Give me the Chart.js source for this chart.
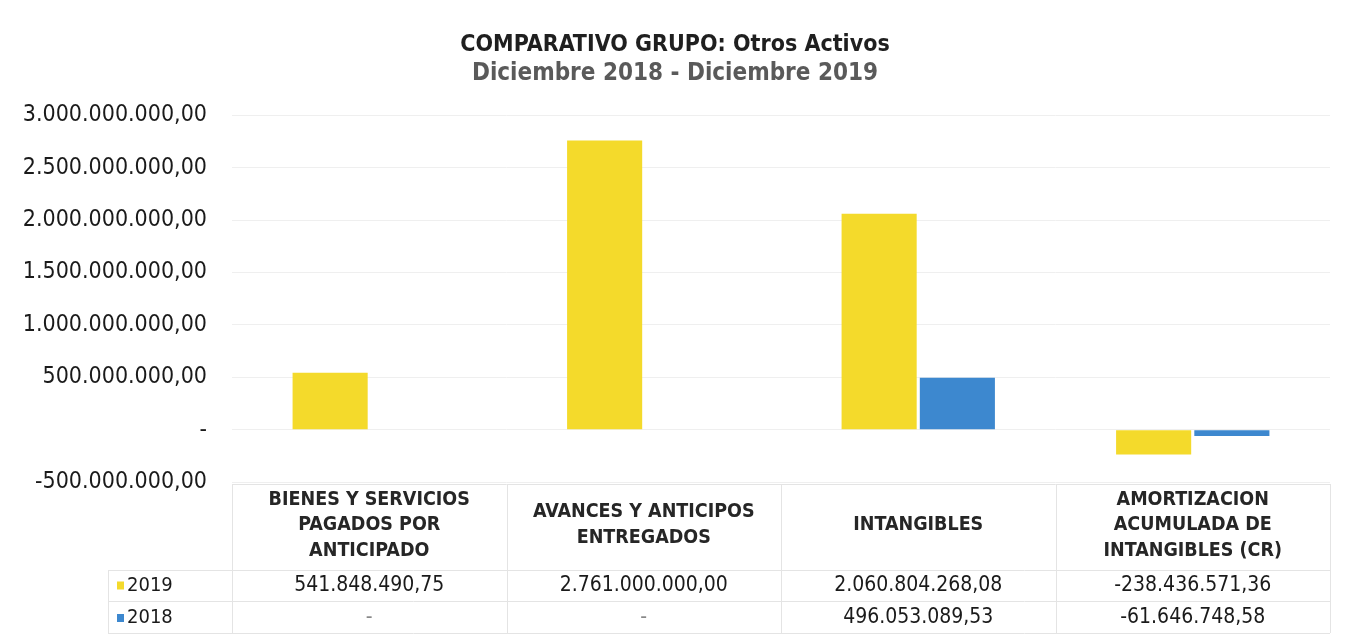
<!DOCTYPE html>
<html>
<head>
<meta charset="utf-8">
<script src="https://cdn.jsdelivr.net/npm/chart.js@4.4.1/dist/chart.umd.min.js"></script>
<style>
html,body{margin:0;padding:0;background:#fff;}
#wrap{width:1353px;height:638px;position:relative;}
</style>
</head>
<body>
<div id="wrap"><canvas id="c" width="1353" height="638"></canvas></div>
<script>
const categories = [
  ["BIENES Y SERVICIOS", "PAGADOS POR", "ANTICIPADO"],
  ["AVANCES Y ANTICIPOS", "ENTREGADOS"],
  ["INTANGIBLES"],
  ["AMORTIZACION", "ACUMULADA DE", "INTANGIBLES (CR)"]
];
const seriesNames = ["2019", "2018"];
const values2019 = [541848490.75, 2761000000.00, 2060804268.08, -238436571.36];
const values2018 = [0, 0, 496053089.53, -61646748.58];
const yTicks = [-500000000, 0, 500000000, 1000000000, 1500000000, 2000000000, 2500000000, 3000000000];
const colors = ["#F4DA2B", "#3D88CF"];

const FONT = "'Liberation Sans Narrow', 'DejaVu Sans Condensed', 'Liberation Sans', sans-serif";

function fmt(v){
  if (v === 0) return "-";
  const neg = v < 0;
  const a = Math.abs(v);
  let [i, d] = a.toFixed(2).split(".");
  i = i.replace(/\B(?=(\d{3})+(?!\d))/g, ".");
  return (neg ? "-" : "") + i + "," + d;
}

const tablePlugin = {
  id: 'dataTable',
  afterDraw(chart){
    const ctx = chart.ctx;
    const x = chart.scales.x;
    const area = chart.chartArea;
    const n = categories.length;
    const step = (area.right - area.left) / n;
    const top = area.bottom + 2;
    const hdrBottom = top + 86;
    const r1 = hdrBottom + 31;
    const r2 = r1 + 32;
    const legLeft = 108;
    ctx.save();
    ctx.strokeStyle = "#e4e4e4";
    ctx.lineWidth = 1;
    ctx.beginPath();
    ctx.moveTo(area.left, top + 0.5); ctx.lineTo(area.right, top + 0.5);
    ctx.moveTo(legLeft, hdrBottom + 0.5); ctx.lineTo(area.right, hdrBottom + 0.5);
    ctx.moveTo(legLeft, r1 + 0.5); ctx.lineTo(area.right, r1 + 0.5);
    ctx.moveTo(legLeft, r2 + 0.5); ctx.lineTo(area.right, r2 + 0.5);
    for (let k = 0; k <= n; k++){
      const xx = Math.round(area.left + k * step) + 0.5;
      ctx.moveTo(xx, top); ctx.lineTo(xx, r2);
    }
    ctx.moveTo(legLeft + 0.5, hdrBottom); ctx.lineTo(legLeft + 0.5, r2);
    ctx.stroke();

    ctx.textAlign = "center";
    ctx.textBaseline = "middle";
    ctx.fillStyle = "#262626";
    ctx.font = "bold 19.5px " + FONT;
    categories.forEach((lines, k) => {
      const cx = x.getPixelForValue(k);
      const lh = 25.5;
      const mid = (top + hdrBottom) / 2 - 2;
      const y0 = mid - (lines.length - 1) * lh / 2;
      lines.forEach((t, j) => ctx.fillText(t, cx, y0 + j * lh));
    });
    ctx.font = "21px " + FONT;
    ctx.fillStyle = "#1a1a1a";
    const rows = [values2019, values2018];
    const rowMid = [(hdrBottom + r1) / 2, (r1 + r2) / 2 + 1];
    rows.forEach((vals, ri) => {
      vals.forEach((v, k) => {
        const cx = x.getPixelForValue(k);
        if (v === 0) {
          ctx.fillStyle = "#888";
          ctx.fillText("-", cx, rowMid[ri]);
          ctx.fillStyle = "#1a1a1a";
        } else ctx.fillText(fmt(v), cx, rowMid[ri]);
      });
      ctx.fillStyle = colors[ri];
      ctx.fillRect(117, rowMid[ri] - 4, 7, 8);
      ctx.fillStyle = "#1a1a1a";
      ctx.textAlign = "left";
      ctx.font = "20px " + FONT;
      ctx.fillText(seriesNames[ri], 127, rowMid[ri]);
      ctx.font = "21px " + FONT;
      ctx.textAlign = "center";
    });
    ctx.restore();
  }
};

new Chart(document.getElementById('c'), {
  type: 'bar',
  data: {
    labels: categories,
    datasets: [
      { label: seriesNames[0], data: values2019, backgroundColor: colors[0], borderWidth: 0 },
      { label: seriesNames[1], data: values2018, backgroundColor: colors[1], borderWidth: 0 }
    ]
  },
  options: {
    responsive: false,
    animation: false,
    layout: { padding: { left: 20, right: 23, top: 31, bottom: 6 } },
    datasets: { bar: { categoryPercentage: 0.57, barPercentage: 0.96 } },
    plugins: {
      legend: { display: false },
      tooltip: { enabled: false },
      title: {
        display: true,
        text: "COMPARATIVO GRUPO: Otros Activos",
        color: "#1f1f1f",
        font: { family: FONT, size: 23, weight: 'bold' },
        padding: { top: 0, bottom: 1 }
      },
      subtitle: {
        display: true,
        text: "Diciembre 2018 - Diciembre 2019",
        color: "#5a5a5a",
        font: { family: FONT, size: 24, weight: 'bold' },
        padding: { top: 0, bottom: 27 }
      }
    },
    scales: {
      x: {
        grid: { display: false },
        border: { display: false },
        ticks: { display: false },
        afterFit(s){ s.height = 150; }
      },
      y: {
        min: yTicks[0],
        max: yTicks[yTicks.length - 1],
        afterBuildTicks(s){ s.ticks = yTicks.map(v => ({ value: v })); },
        grid: { color: "#efefef", drawTicks: false },
        border: { display: false },
        ticks: {
          padding: 25,
          color: "#1a1a1a",
          font: { family: FONT, size: 23 },
          callback: (v) => fmt(v)
        },
        afterFit(s){ s.width = 212; }
      }
    }
  },
  plugins: [tablePlugin]
});
</script>
</body>
</html>
